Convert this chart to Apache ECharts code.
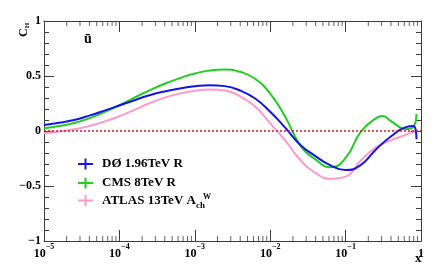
<!DOCTYPE html>
<html><head><meta charset="utf-8">
<script src="https://cdn.jsdelivr.net/npm/echarts@6/dist/echarts.min.js"></script>
<style>html,body{margin:0;padding:0;background:#fff}#c{width:443px;height:269px}</style>
</head><body><div id="c"></div>
<script>
// ---- data ----
const seriesNames = ['DØ 1.96TeV R', 'CMS 8TeV R', 'ATLAS 13TeV A'];
const d0X = [1e-5, 1.58e-5, 2.51e-5, 3.98e-5, 6.31e-5, 1e-4, 1.58e-4, 2.51e-4, 3.98e-4, 6.31e-4, 1e-3, 1.58e-3, 2.51e-3, 3.98e-3, 6.31e-3, 1e-2, 1.58e-2, 2.51e-2, 3.98e-2, 6.31e-2, 0.1, 0.158, 0.251, 0.398, 0.631, 0.794, 0.87];
const d0Y = [0.055, 0.075, 0.100, 0.140, 0.185, 0.232, 0.280, 0.325, 0.360, 0.387, 0.407, 0.417, 0.408, 0.368, 0.295, 0.175, 0.030, -0.127, -0.228, -0.312, -0.355, -0.310, -0.170, -0.050, 0.035, 0.045, -0.075];
const cmsX = [1e-5, 1.58e-5, 2.51e-5, 3.98e-5, 6.31e-5, 1e-4, 1.58e-4, 2.51e-4, 3.98e-4, 6.31e-4, 1e-3, 1.58e-3, 2.51e-3, 3.98e-3, 6.31e-3, 1e-2, 1.58e-2, 2.51e-2, 3.98e-2, 6.31e-2, 0.1, 0.158, 0.251, 0.313, 0.398, 0.631, 0.794, 0.87];
const cmsY = [0.025, 0.045, 0.072, 0.115, 0.172, 0.235, 0.303, 0.370, 0.430, 0.480, 0.522, 0.550, 0.558, 0.538, 0.475, 0.340, 0.130, -0.130, -0.258, -0.330, -0.245, -0.010, 0.115, 0.136, 0.090, 0.018, 0.040, 0.155];
const atlasX = [1e-5, 1.58e-5, 2.51e-5, 3.98e-5, 6.31e-5, 1e-4, 1.58e-4, 2.51e-4, 3.98e-4, 6.31e-4, 1e-3, 1.58e-3, 2.51e-3, 3.98e-3, 6.31e-3, 1e-2, 1.58e-2, 2.51e-2, 3.98e-2, 6.31e-2, 0.1, 0.158, 0.251, 0.398, 0.631, 0.794, 0.87];
const atlasY = [-0.020, -0.005, 0.015, 0.045, 0.085, 0.135, 0.192, 0.252, 0.303, 0.340, 0.365, 0.378, 0.368, 0.315, 0.222, 0.070, -0.085, -0.264, -0.380, -0.435, -0.415, -0.270, -0.150, -0.085, -0.035, -0.010, -0.003];
const yTickValues = [-1, -0.5, 0, 0.5, 1];
const yTickLabels = ['−1', '−0.5', '0', '0.5', '1'];
const xTickExps = [-5, -4, -3, -2, -1, 0];
const refLineY = 0;

// ---- chart ----
const FONT = '"Liberation Serif", "Times New Roman", serif';
const AX = '#3c3c3c';
const colors = ['#1414e6', '#22cc22', '#ff99cc'];
const zip = (xs, ys) => xs.map((x, i) => [x, ys[i]]);

// minor log ticks at k*10^n
const minorX = [];
for (let e = -5; e < 0; e++) for (let k = 2; k <= 9; k++) minorX.push(k * Math.pow(10, e));

function xlab(v) {
  const e = Math.round(Math.log10(v));
  if (xTickExps.indexOf(e) < 0) return '';
  if (e === 0) return '{b|1}';
  return '{b|10}{e|−' + (-e) + '}';
}
function ylab(v) {
  const i = yTickValues.findIndex(t => Math.abs(t - v) < 1e-9);
  return i < 0 ? '' : yTickLabels[i];
}

const tickLine = { color: AX, width: 1 };
const xCommon = {
  type: 'log', logBase: 10, min: 1e-5, max: 1,
  axisLine: { show: true, onZero: false, lineStyle: { color: AX, width: 1 } },
  axisTick: { show: true, inside: true, length: 11, lineStyle: tickLine },
  splitLine: { show: false }, minorTick: { show: false }, minorSplitLine: { show: false }
};
const yCommon = {
  type: 'value', min: -1, max: 1, interval: 0.5,
  axisLine: { show: true, onZero: false, lineStyle: { color: AX, width: 1 } },
  axisTick: { show: true, inside: true, length: 10, lineStyle: tickLine },
  minorTick: { show: true, splitNumber: 5, length: 5, lineStyle: tickLine },
  splitLine: { show: false }, minorSplitLine: { show: false }
};

const legIcon = 'path://M0,4.5h15v2h-15zM6.5,0h2v11h-2z';
function leg(name, top, extra) {
  return Object.assign({
    data: [name], orient: 'vertical', left: 78, top: top, padding: 0,
    itemWidth: 15, itemHeight: 11, icon: legIcon, selectedMode: false,
    textStyle: { fontFamily: FONT, fontWeight: 'bold', fontSize: 13, color: '#000', lineHeight: 14, padding: [0, 0, 0, 4] }
  }, extra || {});
}

const chart = echarts.init(document.getElementById('c'), null, { renderer: 'canvas' });
chart.setOption({
  animation: false,
  backgroundColor: '#fff',
  grid: { left: 44, right: 22, top: 21, bottom: 28, containLabel: false },
  xAxis: [
    Object.assign({}, xCommon, {
      position: 'bottom',
      axisLabel: {
        formatter: xlab, margin: 2, color: '#000',
        rich: {
          b: { fontFamily: FONT, fontWeight: 'bold', fontSize: 12, color: '#000', lineHeight: 17, verticalAlign: 'bottom' },
          e: { fontFamily: FONT, fontWeight: 'bold', fontSize: 8, color: '#000', lineHeight: 17, verticalAlign: 'top' }
        }
      }
    }),
    Object.assign({}, xCommon, { position: 'top', axisLabel: { show: false } })
  ],
  yAxis: [
    Object.assign({}, yCommon, {
      position: 'left',
      axisLabel: { formatter: ylab, fontFamily: FONT, fontWeight: 'bold', fontSize: 12, color: '#000', margin: 3 }
    }),
    Object.assign({}, yCommon, { position: 'right', axisLabel: { show: false } })
  ],
  legend: [
    leg(seriesNames[0], 157),
    leg(seriesNames[1], 176),
    leg(seriesNames[2], 194, {
      formatter: n => '{a|' + n + '}{s|ch}',
      textStyle: {
        fontFamily: FONT, fontWeight: 'bold', fontSize: 13, color: '#000', padding: [0, 0, 0, 4],
        rich: {
          a: { fontFamily: FONT, fontWeight: 'bold', fontSize: 13, color: '#000', lineHeight: 20, verticalAlign: 'middle' },
          s: { fontFamily: FONT, fontWeight: 'bold', fontSize: 9, color: '#000', lineHeight: 20, verticalAlign: 'bottom' }
        }
      }
    })
  ],
  graphic: [
    { type: 'text', left: 84, top: 32, style: { text: 'ū', font: 'bold 14px ' + FONT, fill: '#000' } },
    { type: 'text', x: 203, y: 193, style: { text: 'W', font: 'bold 8px ' + FONT, fill: '#000' } },
    { type: 'text', x: 415, y: 252, style: { text: 'x', font: 'bold 13px ' + FONT, fill: '#000' } },
    { type: 'text', x: 17, y: 37, rotation: Math.PI / 2, style: { text: 'C{s|H}', font: 'bold 12px ' + FONT, fill: '#000', rich: { s: { font: 'bold 7px ' + FONT, fill: '#000', verticalAlign: 'bottom', lineHeight: 14 } } } }
  ],
  series: [
    { name: seriesNames[0], type: 'line', data: zip(d0X, d0Y), showSymbol: false, smooth: 0.5, z: 4,
      color: colors[0], lineStyle: { width: 2, color: colors[0] },
      markLine: { silent: true, symbol: ['none', 'none'], label: { show: false },
        lineStyle: { color: '#cc2222', width: 1.5, type: [2, 2] }, data: [{ yAxis: refLineY }] } },
    { name: seriesNames[1], type: 'line', data: zip(cmsX, cmsY), showSymbol: false, smooth: 0.5, z: 3,
      color: colors[1], lineStyle: { width: 2, color: colors[1] } },
    { name: seriesNames[2], type: 'line', data: zip(atlasX, atlasY), showSymbol: false, smooth: 0.5, z: 2,
      color: colors[2], lineStyle: { width: 2, color: colors[2] } },
    { type: 'scatter', data: minorX.map(v => [v, -1]), symbol: 'rect', symbolSize: [1, 5], symbolOffset: [0, -2.5],
      itemStyle: { color: AX }, silent: true, clip: false, z: 5 },
    { type: 'scatter', data: minorX.map(v => [v, 1]), symbol: 'rect', symbolSize: [1, 5], symbolOffset: [0, 2.5],
      itemStyle: { color: AX }, silent: true, clip: false, z: 5 }
  ]
});
</script>
</body></html>
